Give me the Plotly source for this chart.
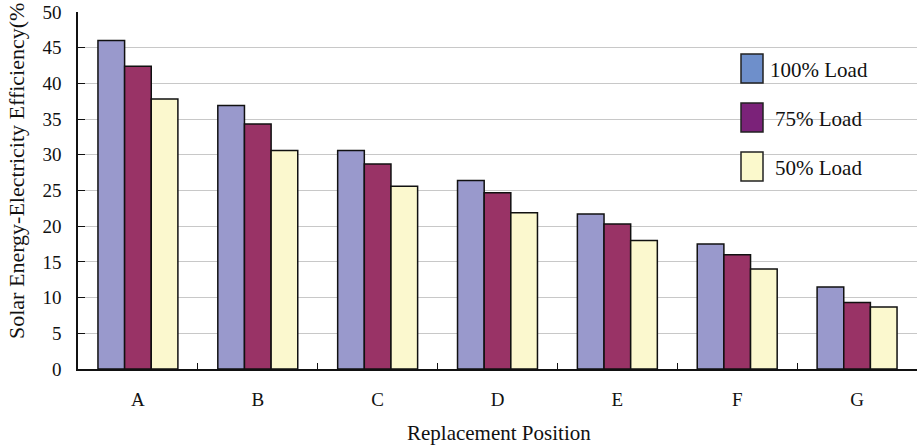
import plotly.graph_objects as go

categories = ["A", "B", "C", "D", "E", "F", "G"]
load_100 = [46.0, 36.9, 30.6, 26.4, 21.7, 17.5, 11.5]
load_75 = [42.4, 34.3, 28.7, 24.7, 20.3, 16.0, 9.3]
load_50 = [37.8, 30.6, 25.6, 21.9, 18.0, 14.0, 8.7]
series_names = ["100% Load", "75% Load", "50% Load"]
bar_colors = ["#9999CC", "#993366", "#FBF8CE"]
legend_colors = ["#6E8FCB", "#7B2279", "#FBF9CC"]
y_title = "Solar Energy-Electricity Efficiency(%"
x_title = "Replacement Position"

FONT = "Liberation Serif, Times New Roman, serif"
W, H = 917, 447
ML, MR, MT, MB = 78, 0, 12, 78

fig = go.Figure()
for name, vals, col in zip(series_names, [load_100, load_75, load_50], bar_colors):
    fig.add_trace(go.Bar(
        x=categories, y=vals, name=name,
        marker=dict(color=col, line=dict(color="#111111", width=1.5)),
        showlegend=False,
    ))

# custom legend (pixel -> paper conversion)
pw = W - ML - MR
ph = H - MT - MB
def px(x):
    return (x - ML) / pw
def py(y):
    return (H - MB - y) / ph

box_tops = [54, 103, 152]
text_x = [768, 773, 773]
shapes = []
annotations = []
for i, (name, col) in enumerate(zip(series_names, legend_colors)):
    t = box_tops[i]
    shapes.append(dict(type="rect", xref="paper", yref="paper",
                       x0=px(741), x1=px(763), y0=py(t + 29), y1=py(t),
                       fillcolor=col, line=dict(color="#222222", width=1.5)))
    annotations.append(dict(xref="paper", yref="paper", x=px(text_x[i]), y=py(t + 16),
                            text=name, showarrow=False, xanchor="left", yanchor="middle",
                            font=dict(family=FONT, size=21, color="#111111")))

annotations.append(dict(xref="paper", yref="paper", x=px(16), y=py(341),
                        text=y_title, textangle=-90,
                        showarrow=False, xanchor="center", yanchor="bottom",
                        font=dict(family=FONT, size=22, color="#111111")))
annotations.append(dict(xref="paper", yref="paper", x=px(499), y=py(433),
                        text=x_title, showarrow=False,
                        xanchor="center", yanchor="middle",
                        font=dict(family=FONT, size=21, color="#111111")))

fig.update_layout(
    width=W, height=H,
    margin=dict(l=ML, r=MR, t=MT, b=MB, pad=0, autoexpand=False),
    paper_bgcolor="white", plot_bgcolor="white",
    barmode="group", bargap=0.333, bargroupgap=0,
    font=dict(family=FONT, size=18, color="#111111"),
    shapes=shapes, annotations=annotations,
)
fig.update_xaxes(
    type="category", showline=True, linecolor="#111111", linewidth=1.5,
    ticks="inside", tickson="boundaries", ticklen=6, tickcolor="#111111",
    showgrid=False, ticklabelstandoff=12, automargin=False,
    tickfont=dict(family=FONT, size=19, color="#111111"),
)
fig.update_yaxes(
    range=[0, 50], dtick=5, showline=True, linecolor="#111111", linewidth=1.5,
    ticks="inside", ticklen=7, tickcolor="#111111",
    showgrid=True, gridcolor="#C8C8C8", gridwidth=1, zeroline=False,
    ticklabelstandoff=11, automargin=False,
    tickfont=dict(family=FONT, size=19, color="#111111"),
)

fig.write_html("out.html", config={"displayModeBar": False},
               post_script="document.body.style.margin='0';document.body.style.overflow='hidden';")
